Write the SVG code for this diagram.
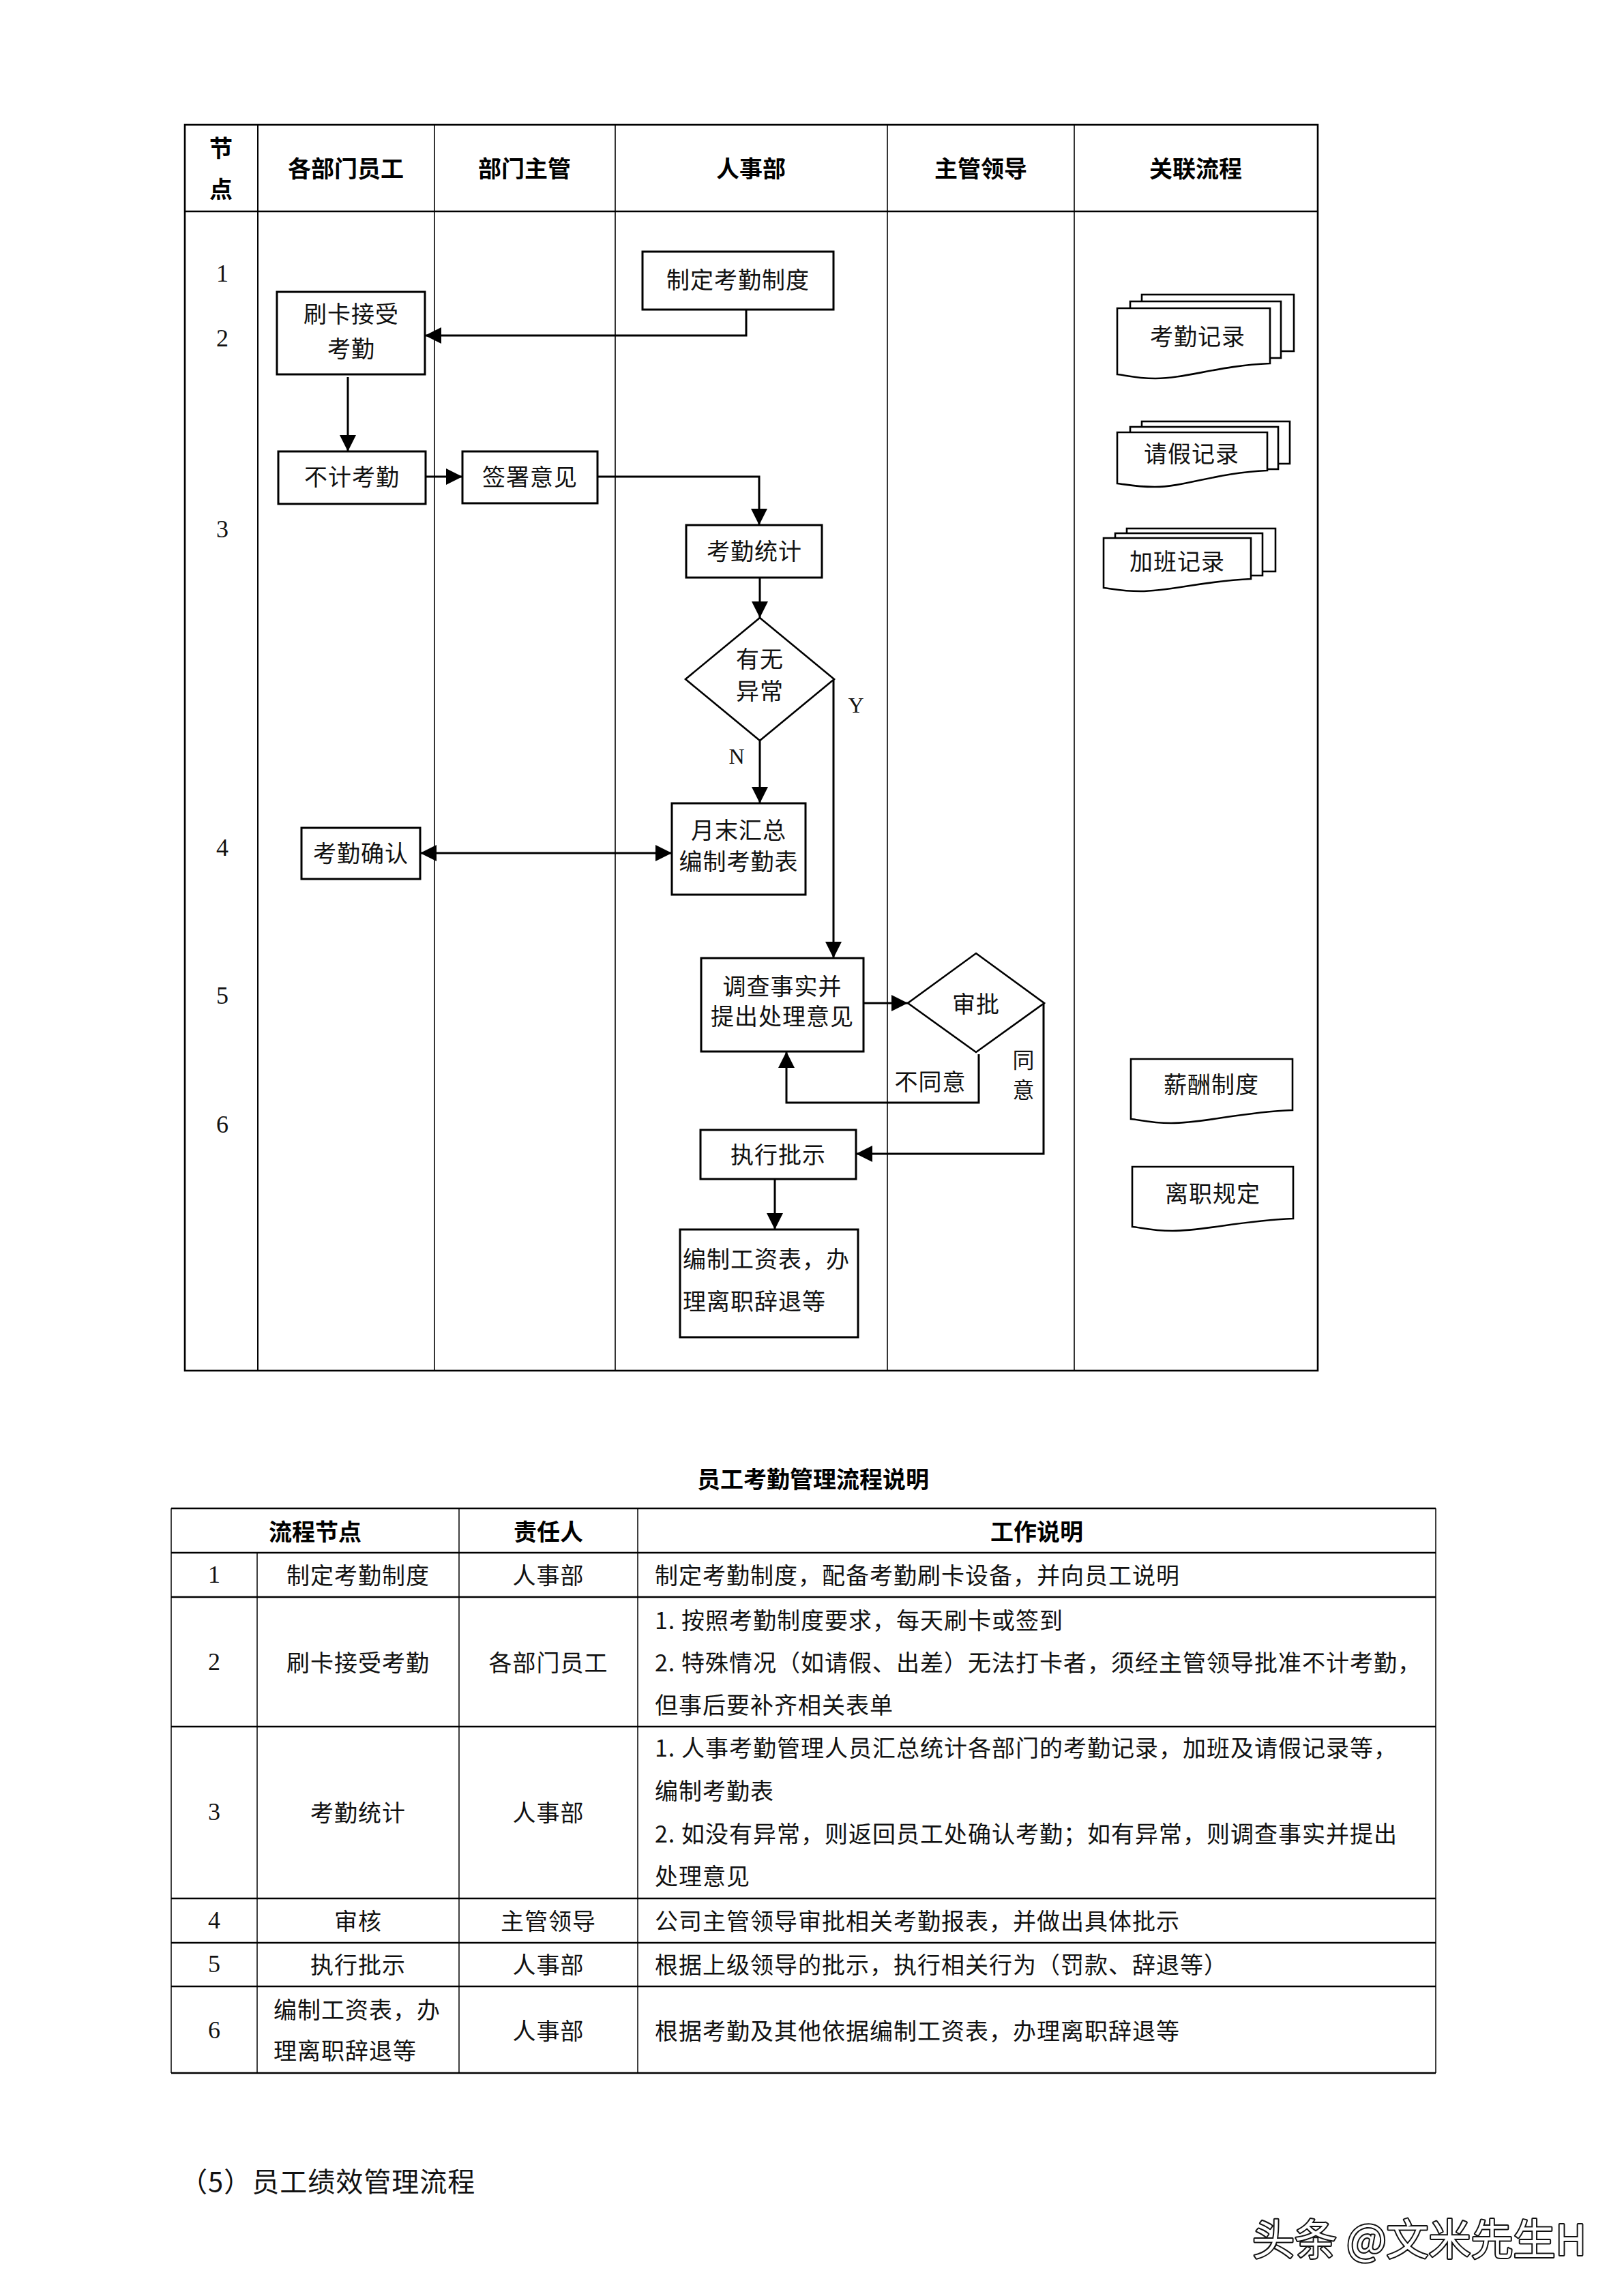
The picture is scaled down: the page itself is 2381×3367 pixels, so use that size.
<svg xmlns="http://www.w3.org/2000/svg" width="2381" height="3367" viewBox="0 0 2381 3367">
<style>
.bg{fill:#fff}
.lane{stroke:#000;stroke-width:1.6;fill:none}
.frame{stroke:#000;stroke-width:2.6;fill:none}
.box{fill:#fff;stroke:#000;stroke-width:3}
.doc{fill:#fff;stroke:#000;stroke-width:2.6}
.con{fill:none;stroke:#000;stroke-width:3}
.t{font-family:"Noto Sans CJK SC","Liberation Serif",serif;font-size:34px;letter-spacing:1px;fill:#111;text-anchor:middle;dominant-baseline:central}
.ts{text-anchor:start}
.h{font-family:"Noto Sans CJK SC",sans-serif;font-size:34px;font-weight:bold;fill:#000;text-anchor:middle;dominant-baseline:central}
.n{font-family:"Liberation Serif",serif;font-size:36px;fill:#111;text-anchor:middle;dominant-baseline:central}
.th{stroke:#000;stroke-width:2.6;fill:none}
.tv{stroke:#000;stroke-width:1.5;fill:none}
.wm{font-family:"Noto Sans CJK SC",sans-serif;font-size:62px;fill:#fff;stroke:#111;stroke-width:4;paint-order:stroke;stroke-linejoin:round}
</style>
<defs>
<marker id="arr" markerUnits="userSpaceOnUse" markerWidth="24" markerHeight="24" viewBox="0 0 24 24" refX="24" refY="12" orient="auto-start-reverse">
<path d="M0,0 L24,12 L0,24 Z" fill="#000"/>
</marker>
</defs>
<rect class="bg" x="0" y="0" width="2381" height="3367"/>

<g id="swimlane">
<rect class="frame" x="271" y="183" width="1661" height="1827"/>
<line class="frame" x1="271" y1="310" x2="1932" y2="310"/>
<line class="lane" x1="378" y1="183" x2="378" y2="2010" style="stroke-width:2"/>
<line class="lane" x1="637" y1="183" x2="637" y2="2010"/>
<line class="lane" x1="902" y1="183" x2="902" y2="2010"/>
<line class="lane" x1="1301" y1="183" x2="1301" y2="2010"/>
<line class="lane" x1="1575" y1="183" x2="1575" y2="2010"/>
<text class="h" x="324" y="215">节</text>
<text class="h" x="324" y="275">点</text>
<text class="h" x="507" y="245">各部门员工</text>
<text class="h" x="769" y="245">部门主管</text>
<text class="h" x="1101" y="245">人事部</text>
<text class="h" x="1438" y="245">主管领导</text>
<text class="h" x="1753" y="245">关联流程</text>
<text class="n" x="326" y="401">1</text>
<text class="n" x="326" y="496">2</text>
<text class="n" x="326" y="776">3</text>
<text class="n" x="326" y="1243">4</text>
<text class="n" x="326" y="1460">5</text>
<text class="n" x="326" y="1649">6</text>
</g>

<g id="connectors">
<path class="con" d="M1094,454 V492 H623" marker-end="url(#arr)"/>
<path class="con" d="M510,553 V662" marker-end="url(#arr)"/>
<path class="con" d="M624,699 H678" marker-end="url(#arr)"/>
<path class="con" d="M876,699 H1113 V770" marker-end="url(#arr)"/>
<path class="con" d="M1114,847 V906" marker-end="url(#arr)"/>
<path class="con" d="M1114,1086 V1178" marker-end="url(#arr)"/>
<path class="con" d="M1222,996 V1405" marker-end="url(#arr)"/>
<path class="con" d="M616,1251 H985" marker-start="url(#arr)" marker-end="url(#arr)"/>
<path class="con" d="M1266,1471 H1331" marker-end="url(#arr)"/>
<path class="con" d="M1435,1546 V1617 H1153 V1542" marker-end="url(#arr)"/>
<path class="con" d="M1530,1471 V1692 H1255" marker-end="url(#arr)"/>
<path class="con" d="M1136,1729 V1803" marker-end="url(#arr)"/>
<text class="n" x="1255" y="1034" style="font-size:32px">Y</text>
<text class="n" x="1080" y="1109" style="font-size:32px">N</text>
<text class="t" x="1364" y="1584">不同意</text>
<text class="t" x="1501" y="1552" style="font-size:32px">同</text>
<text class="t" x="1501" y="1596" style="font-size:32px">意</text>
</g>

<g id="n-zhiding">
<rect class="box" x="942" y="369" width="280" height="85"/>
<text class="t" x="1082" y="408">制定考勤制度</text>
</g>
<g id="n-shuaka">
<rect class="box" x="406" y="428" width="217" height="121"/>
<text class="t" x="515" y="458">刷卡接受</text>
<text class="t" x="515" y="509">考勤</text>
</g>
<g id="n-bujikaoqin">
<rect class="box" x="408" y="662" width="216" height="77"/>
<text class="t" x="516" y="697">不计考勤</text>
</g>
<g id="n-qianshu">
<rect class="box" x="678" y="662" width="198" height="76"/>
<text class="t" x="777" y="697">签署意见</text>
</g>
<g id="n-tongji">
<rect class="box" x="1006" y="770" width="199" height="77"/>
<text class="t" x="1106" y="806">考勤统计</text>
</g>
<g id="n-youwu">
<path class="box" d="M1114,906 L1223,996 L1114,1086 L1005,996 Z" style="stroke-width:2.6"/>
<text class="t" x="1114" y="964">有无</text>
<text class="t" x="1114" y="1011">异常</text>
</g>
<g id="n-yuemo">
<rect class="box" x="985" y="1178" width="196" height="134"/>
<text class="t" x="1083" y="1215">月末汇总</text>
<text class="t" x="1083" y="1261">编制考勤表</text>
</g>
<g id="n-queren">
<rect class="box" x="442" y="1214" width="174" height="75"/>
<text class="t" x="529" y="1249">考勤确认</text>
</g>
<g id="n-diaocha">
<rect class="box" x="1028" y="1405" width="238" height="137"/>
<text class="t" x="1147" y="1444">调查事实并</text>
<text class="t" x="1147" y="1488">提出处理意见</text>
</g>
<g id="n-shenpi">
<path class="box" d="M1431,1398 L1531,1471 L1431,1543 L1331,1471 Z" style="stroke-width:2.6"/>
<text class="t" x="1431" y="1470">审批</text>
</g>
<g id="n-zhixing">
<rect class="box" x="1027" y="1657" width="228" height="72"/>
<text class="t" x="1141" y="1691">执行批示</text>
</g>
<g id="n-bianzhi">
<rect class="box" x="997" y="1803" width="261" height="158"/>
<text class="t ts" x="1001" y="1844">编制工资表，办</text>
<text class="t ts" x="1001" y="1906">理离职辞退等</text>
</g>

<g id="d-kaoqinjilu">
<rect class="doc" x="1674" y="432" width="223" height="83"/>
<rect class="doc" x="1657" y="442" width="221" height="83"/>
<path class="doc" d="M1638,452 H1862 V533 C1788,536 1739,555 1694,555 C1665,555 1649,550 1638,549 Z"/>
<text class="t" x="1756" y="491">考勤记录</text>
</g>
<g id="d-qingjiajilu">
<rect class="doc" x="1674" y="618" width="217" height="62"/>
<rect class="doc" x="1657" y="626" width="217" height="62"/>
<path class="doc" d="M1638,634 H1858 V690 C1785,693 1737,714 1693,714 C1664,714 1649,710 1638,709 Z"/>
<text class="t" x="1747" y="663">请假记录</text>
</g>
<g id="d-jiabanjilu">
<rect class="doc" x="1652" y="775" width="218" height="63"/>
<rect class="doc" x="1635" y="782" width="216" height="62"/>
<path class="doc" d="M1618,789 H1834 V849 C1763,852 1715,867 1672,867 C1644,867 1629,863 1618,862 Z"/>
<text class="t" x="1726" y="821">加班记录</text>
</g>
<g id="d-xinchou">
<path class="doc" d="M1658,1553 H1895 V1628 C1817,1631 1765,1647 1717,1647 C1686,1647 1670,1642 1658,1641 Z"/>
<text class="t" x="1776" y="1588">薪酬制度</text>
</g>
<g id="d-lizhi">
<path class="doc" d="M1660,1711 H1896 V1787 C1818,1790 1766,1805 1719,1805 C1688,1805 1672,1800 1660,1799 Z"/>
<text class="t" x="1778" y="1748">离职规定</text>
</g>

<g id="table">
<text class="h" x="1192" y="2167">员工考勤管理流程说明</text>
<line class="th" x1="251" y1="2212" x2="2105" y2="2212"/>
<line class="th" x1="251" y1="2277" x2="2105" y2="2277"/>
<line class="th" x1="251" y1="2342" x2="2105" y2="2342"/>
<line class="th" x1="251" y1="2532" x2="2105" y2="2532"/>
<line class="th" x1="251" y1="2784" x2="2105" y2="2784"/>
<line class="th" x1="251" y1="2849" x2="2105" y2="2849"/>
<line class="th" x1="251" y1="2913" x2="2105" y2="2913"/>
<line class="th" x1="251" y1="3040" x2="2105" y2="3040"/>
<line class="tv" x1="251" y1="2212" x2="251" y2="3040"/>
<line class="tv" x1="377" y1="2277" x2="377" y2="3040"/>
<line class="tv" x1="673" y1="2212" x2="673" y2="3040"/>
<line class="tv" x1="935" y1="2212" x2="935" y2="3040"/>
<line class="tv" x1="2105" y1="2212" x2="2105" y2="3040"/>
<text class="h" x="462" y="2244">流程节点</text>
<text class="h" x="804" y="2244">责任人</text>
<text class="h" x="1520" y="2244">工作说明</text>

<text class="n" x="314" y="2309">1</text>
<text class="t" x="525" y="2308">制定考勤制度</text>
<text class="t" x="804" y="2308">人事部</text>
<text class="t ts" x="960" y="2308">制定考勤制度，配备考勤刷卡设备，并向员工说明</text>

<text class="n" x="314" y="2437">2</text>
<text class="t" x="525" y="2436">刷卡接受考勤</text>
<text class="t" x="804" y="2436">各部门员工</text>
<text class="t ts" x="960" y="2374">1. 按照考勤制度要求，每天刷卡或签到</text>
<text class="t ts" x="960" y="2436">2. 特殊情况（如请假、出差）无法打卡者，须经主管领导批准不计考勤，</text>
<text class="t ts" x="960" y="2498">但事后要补齐相关表单</text>

<text class="n" x="314" y="2657">3</text>
<text class="t" x="525" y="2656">考勤统计</text>
<text class="t" x="804" y="2656">人事部</text>
<text class="t ts" x="960" y="2561">1. 人事考勤管理人员汇总统计各部门的考勤记录，加班及请假记录等，</text>
<text class="t ts" x="960" y="2624">编制考勤表</text>
<text class="t ts" x="960" y="2687">2. 如没有异常，则返回员工处确认考勤；如有异常，则调查事实并提出</text>
<text class="t ts" x="960" y="2749">处理意见</text>

<text class="n" x="314" y="2816">4</text>
<text class="t" x="525" y="2815">审核</text>
<text class="t" x="804" y="2815">主管领导</text>
<text class="t ts" x="960" y="2815">公司主管领导审批相关考勤报表，并做出具体批示</text>

<text class="n" x="314" y="2880">5</text>
<text class="t" x="525" y="2879">执行批示</text>
<text class="t" x="804" y="2879">人事部</text>
<text class="t ts" x="960" y="2879">根据上级领导的批示，执行相关行为（罚款、辞退等）</text>

<text class="n" x="314" y="2977">6</text>
<text class="t ts" x="401" y="2945">编制工资表，办</text>
<text class="t ts" x="401" y="3005">理离职辞退等</text>
<text class="t" x="804" y="2976">人事部</text>
<text class="t ts" x="960" y="2976">根据考勤及其他依据编制工资表，办理离职辞退等</text>
</g>

<text class="t ts" x="264" y="3197" style="font-size:40px">（5）员工绩效管理流程</text>
<text class="wm" x="1836" y="3307">头条 @文米先生H</text>
</svg>
